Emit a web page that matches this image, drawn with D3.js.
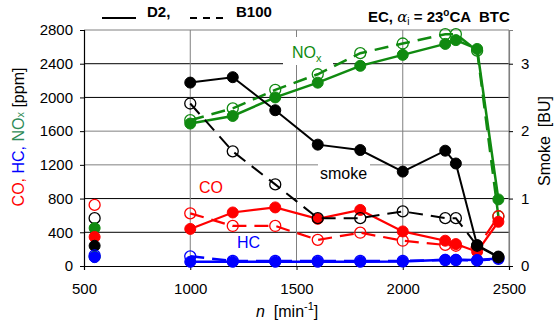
<!DOCTYPE html>
<html><head><meta charset="utf-8">
<script src="https://cdn.jsdelivr.net/npm/d3@7"></script>
<style>body{margin:0;background:#fff}svg{display:block;font-family:"Liberation Sans",Arial,sans-serif}text{white-space:pre}</style>
</head><body><svg id="c" width="555" height="328"></svg>
<script>
// Engine speeds
const speeds = [1000, 1200, 1400, 1600, 1800, 2000, 2200, 2250, 2350, 2450];
// NOx [ppm]
const noxD2   = [1690, 1780, 2000, 2175, 2375, 2505, 2635, 2680, 2575, 790];
const noxB100 = [1730, 1870, 2090, 2275, 2525, 2640, 2750, 2750, 2555, 590];
// CO [ppm]
const coD2    = [440, 635, 695, 560, 665, 410, 300, 260, 170, 525];
const coB100  = [625, 475, 475, 310, 395, 300, 250, 240, 215, 590];
// HC [ppm]
const hcD2    = [50, 50, 50, 50, 50, 52, 75, 75, 70, 90];
const hcB100  = [115, 60, 60, 60, 60, 60, 70, 70, 65, 85];
// Smoke [BU]
const smokeD2   = [2.72, 2.80, 2.31, 1.80, 1.72, 1.40, 1.71, 1.52, 0.31, 0.14];
const smokeB100 = [2.41, 1.70, 1.21, 0.71, 0.71, 0.81, 0.71, 0.71, 0.30, 0.13];
// Idle points (n = 550)
const idleSpeed = 550;
const idle = {coB100: 725, smokeB100: 0.71, noxD2: 450, coD2: 345, smokeD2: 0.30, hcD2: 105, hcB100: 125, noxB100: 110};
const xTicks = [500, 1000, 1500, 2000, 2500];
const yTicks = [0, 400, 800, 1200, 1600, 2000, 2400, 2800];
const smokeTicks = [0, 1, 2, 3];

const svg = d3.select("#c");
const L = 84, R = 509, T = 30, B = 266;
const x = d3.scaleLinear().domain([500, 2500]).range([L, R]);
const y = d3.scaleLinear().domain([0, 2800]).range([B, T]);
const ys = d3.scaleLinear().domain([0, 3.5]).range([B, T]);

// gridlines
const blackGrid = [400, 800, 2000, 2400];
yTicks.filter(v => v > 0 && v < 2800).forEach(v => {
  svg.append("line").attr("x1", L).attr("x2", R).attr("y1", y(v)).attr("y2", y(v))
    .attr("stroke", blackGrid.includes(v) ? "#000" : "#808080").attr("stroke-width", 1);
});
xTicks.filter(v => v > 500 && v < 2500).forEach(v => {
  svg.append("line").attr("x1", x(v)).attr("x2", x(v)).attr("y1", T).attr("y2", B)
    .attr("stroke", "#808080").attr("stroke-width", 1);
});
// top & right border
svg.append("line").attr("x1", L).attr("x2", R).attr("y1", T).attr("y2", T).attr("stroke", "#808080");
svg.append("line").attr("x1", R).attr("x2", R).attr("y1", T).attr("y2", B).attr("stroke", "#808080");

// axes
const fs = 15;
const ax = svg.append("g").attr("transform", `translate(0,${B})`)
  .call(d3.axisBottom(x).tickValues(xTicks).tickSize(4).tickPadding(10).tickFormat(d3.format("d")));
const ayl = svg.append("g").attr("transform", `translate(${L},0)`)
  .call(d3.axisLeft(y).tickValues(yTicks).tickSize(4).tickPadding(7).tickFormat(d3.format("d")));
const ayr = svg.append("g").attr("transform", `translate(${R},0)`)
  .call(d3.axisRight(ys).tickValues(smokeTicks).tickSize(4).tickPadding(8).tickFormat(d3.format("d")));
[ax, ayl, ayr].forEach(g => {
  g.select(".domain").attr("stroke", "#000").attr("stroke-width", 1.2);
  g.selectAll("text").attr("font-size", fs).attr("font-family", "Liberation Sans, Arial").attr("fill", "#000");
});
ayr.select(".domain").attr("stroke", "#808080");
ax.selectAll("text").attr("dy", "0.95em");

// labels with white boxes
function boxLabel(tx, ty, w, h) {
  svg.append("rect").attr("x", tx).attr("y", ty).attr("width", w).attr("height", h).attr("fill", "#fff");
}
boxLabel(283, 37, 50, 28);
boxLabel(318, 162, 52, 22);

const lineGen = (ysc, vals) => d3.line().x((d, i) => x(speeds[i])).y(d => ysc(d))(vals);

function series(vals, ysc, color, dashed, width) {
  svg.append("path").attr("d", lineGen(ysc, vals)).attr("fill", "none")
    .attr("stroke", color).attr("stroke-width", width)
    .attr("stroke-dasharray", dashed ? "14,8" : null);
  svg.selectAll(null).data(vals).enter().append("circle")
    .attr("cx", (d, i) => x(speeds[i])).attr("cy", d => ysc(d)).attr("r", 5.5)
    .attr("fill", dashed ? "none" : color).attr("stroke", color).attr("stroke-width", dashed ? 1.3 : 1);
}
const GREEN = "#108a10", RED = "#ff0000", BLUE = "#0000ff", BLACK = "#000";
series(noxB100, y, GREEN, true, 2.5);
series(noxD2, y, GREEN, false, 2.5);
series(coB100, y, RED, true, 2.2);
series(coD2, y, RED, false, 2.2);
series(hcB100, y, BLUE, true, 2.5);
series(hcD2, y, BLUE, false, 2.5);
series(smokeB100, ys, BLACK, true, 2);
series(smokeD2, ys, BLACK, false, 2);

// idle points
function idlePt(v, sc, color, open) {
  svg.append("circle").attr("cx", x(idleSpeed)).attr("cy", sc(v)).attr("r", 5.5)
    .attr("fill", open ? "none" : color).attr("stroke", color).attr("stroke-width", open ? 1.3 : 1);
}
idlePt(idle.coB100, y, RED, true);
idlePt(idle.smokeB100, ys, BLACK, true);
idlePt(idle.noxD2, y, GREEN, false);
idlePt(idle.coD2, y, RED, false);
idlePt(idle.smokeD2, ys, BLACK, false);
idlePt(idle.noxB100, y, GREEN, false);
idlePt(idle.hcD2, y, BLUE, false);
idlePt(idle.hcB100, y, BLUE, true);

// series labels
const nox = svg.append("text").attr("x", 292).attr("y", 58).attr("font-size", 16).attr("fill", GREEN).text("NO");
nox.append("tspan").attr("font-size", 11).attr("dy", 4).text("x");
svg.append("text").attr("x", 199).attr("y", 193).attr("font-size", 16).attr("fill", RED).text("CO");
svg.append("text").attr("x", 237).attr("y", 248).attr("font-size", 16).attr("fill", BLUE).text("HC");
svg.append("text").attr("x", 320).attr("y", 179).attr("font-size", 16).attr("fill", BLACK).text("smoke");

// left axis title
const yl = svg.append("text").attr("transform", "translate(24,137) rotate(-90)")
  .attr("text-anchor", "middle").attr("font-size", 16);
yl.append("tspan").attr("fill", RED).text("CO, ");
yl.append("tspan").attr("fill", BLUE).text("HC, ");
yl.append("tspan").attr("fill", "#2e8b57").text("NO");
yl.append("tspan").attr("fill", "#2e8b57").attr("font-size", 11).text("x");
yl.append("tspan").attr("fill", "#000").text(" [ppm]");

// right axis title
svg.append("text").attr("transform", "translate(550,141) rotate(-90)")
  .attr("text-anchor", "middle").attr("font-size", 16).text("Smoke  [BU]");

// x axis title
const xl = svg.append("text").attr("x", 256).attr("y", 317).attr("font-size", 16);
xl.append("tspan").attr("font-style", "italic").text("n");
xl.append("tspan").text("  [min");
xl.append("tspan").attr("font-size", 11).attr("dy", -7).text("-1");
xl.append("tspan").attr("dy", 7).text("]");

// top legend
svg.append("line").attr("x1", 102).attr("x2", 136).attr("y1", 18).attr("y2", 18).attr("stroke", "#000").attr("stroke-width", 2);
svg.append("text").attr("x", 147).attr("y", 17).attr("font-size", 15).attr("font-weight", "bold").text("D2,");
svg.append("line").attr("x1", 190).attr("x2", 223).attr("y1", 18).attr("y2", 18).attr("stroke", "#000").attr("stroke-width", 2).attr("stroke-dasharray", "7,6");
svg.append("text").attr("x", 236).attr("y", 17).attr("font-size", 15).attr("font-weight", "bold").text("B100");

// condition label
const cl = svg.append("text").attr("x", 368).attr("y", 22).attr("font-size", 15).attr("font-weight", "bold");
cl.append("tspan").text("EC, ");
cl.append("tspan").attr("font-weight", "normal").attr("font-family", "DejaVu Serif, serif").attr("font-style", "italic").text("α");
cl.append("tspan").attr("font-weight", "normal").attr("font-size", 10).attr("dy", 3).text("i");
cl.append("tspan").attr("dy", -3).text(" = 23");
cl.append("tspan").attr("font-size", 10).attr("dy", -6).text("o");
cl.append("tspan").attr("dy", 6).text("CA  BTC");
</script></body></html>
